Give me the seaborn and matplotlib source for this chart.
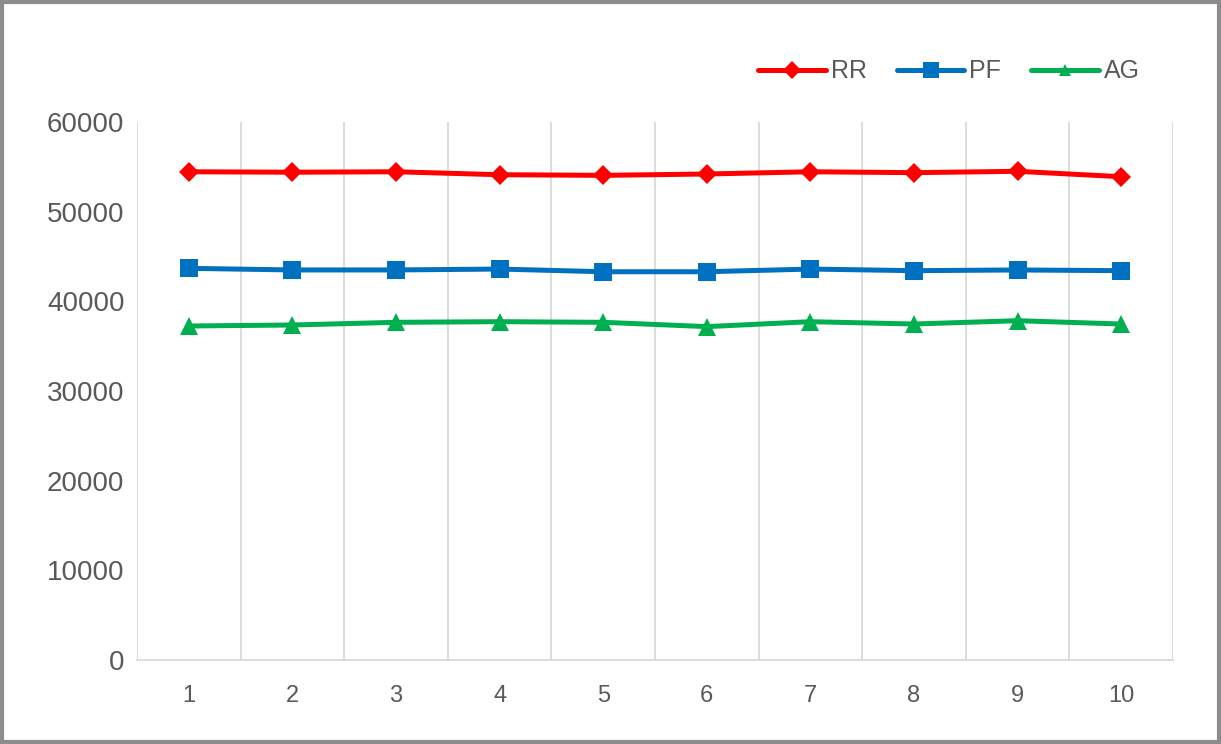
import pandas as pd
import matplotlib.pyplot as plt
import seaborn as sns
from matplotlib.patches import Rectangle

# Data
runs = [1, 2, 3, 4, 5, 6, 7, 8, 9, 10]
rr = [54450, 54400, 54450, 54120, 54050, 54200, 54450, 54350, 54500, 53900]
pf = [43680, 43500, 43500, 43600, 43300, 43300, 43600, 43420, 43500, 43420]
ag = [37250, 37360, 37660, 37730, 37660, 37180, 37730, 37470, 37840, 37470]

df = pd.DataFrame({'run': runs * 3,
                   'value': rr + pf + ag,
                   'series': ['RR'] * 10 + ['PF'] * 10 + ['AG'] * 10})

sns.set_theme(style='white')
plt.rcParams['font.family'] = ['Liberation Sans', 'DejaVu Sans']

fig = plt.figure(figsize=(12.21, 7.44), dpi=100)
ax = fig.add_axes([137 / 1221, 1 - 660 / 744, (1173 - 137) / 1221, (660 - 122) / 744])

colors = {'RR': '#FF0000', 'PF': '#0070C0', 'AG': '#00B050'}
marks = {'RR': 'D', 'PF': 's', 'AG': '^'}
sns.lineplot(data=df, x='run', y='value', hue='series', style='series',
             palette=colors, markers=marks, dashes=False, linewidth=3.6,
             markersize=13, markeredgewidth=0, ax=ax)

# diamonds are a bit smaller in the original
for line in ax.lines:
    if line.get_marker() == 'D':
        line.set_markersize(10)

ax.set_xlim(0.5, 10.5)
ax.set_ylim(0, 60000)
ax.set_xticks(runs)
ax.set_xticks([x + 0.5 for x in range(0, 11)], minor=True)
ax.set_yticks(range(0, 60001, 10000))
ax.grid(False)
ax.grid(True, which='minor', axis='x', color='#d9d9d9', linewidth=1.3)
ax.tick_params(axis='both', which='both', length=0)
ax.tick_params(axis='y', labelsize=20, labelcolor='#595959', pad=9)
ax.tick_params(axis='x', labelsize=17, labelcolor='#595959', pad=18)
ax.set_xlabel('')
ax.set_ylabel('')
for s in ['top', 'left', 'right']:
    ax.spines[s].set_visible(False)
ax.spines['bottom'].set_color('#d9d9d9')
ax.spines['bottom'].set_linewidth(1.3)

handles, labels = ax.get_legend_handles_labels()
ax.legend(handles, labels, ncol=3, frameon=False, fontsize=18,
          labelcolor='#595959', handlelength=2.7, handletextpad=0.2,
          columnspacing=1.2, loc='lower right', borderpad=0,
          bbox_to_anchor=(0.968, 1.072), borderaxespad=0)
for h in ax.get_legend().legend_handles:
    h.set_markersize(11 if h.get_marker() == 's' else 9)

fig.patches.append(Rectangle((0.002, 0.003), 0.996, 0.994, transform=fig.transFigure,
                             fill=False, edgecolor='#8c8c8c', linewidth=3))

fig.savefig('out.png', dpi=100)
